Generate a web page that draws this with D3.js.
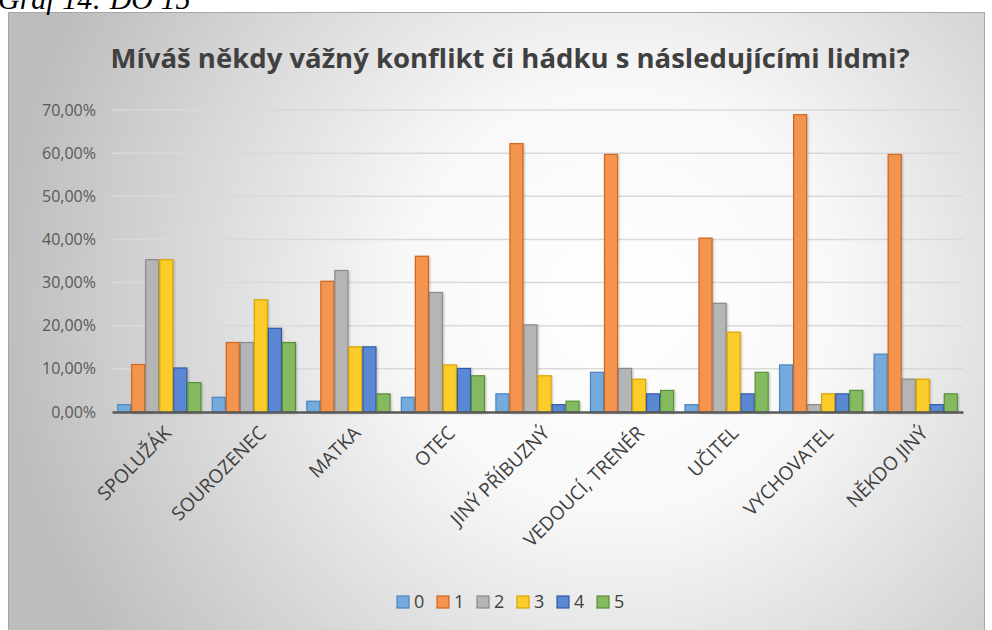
<!DOCTYPE html>
<html>
<head>
<meta charset="utf-8">
<script src="https://cdn.jsdelivr.net/npm/d3@7"></script>
<style>
  html, body { margin: 0; padding: 0; background: #fff; }
  svg { display: block; }
</style>
</head>
<body>
<svg id="chart" width="992" height="630"></svg>
<script>
// categories (people) and answer series 0..5, values in percent
const categories = ['SPOLUŽÁK', 'SOUROZENEC', 'MATKA', 'OTEC', 'JINÝ PŘÍBUZNÝ',
  'VEDOUCÍ, TRENÉR', 'UČITEL', 'VYCHOVATEL', 'NĚKDO JINÝ'];
const seriesNames = ['0', '1', '2', '3', '4', '5'];
const s0 = [1.7, 3.4, 2.5, 3.4, 4.2, 9.2, 1.7, 10.9, 13.4];
const s1 = [11.0, 16.1, 30.3, 36.1, 62.2, 59.7, 40.3, 68.9, 59.7];
const s2 = [35.3, 16.1, 32.8, 27.7, 20.2, 10.1, 25.2, 1.7, 7.6];
const s3 = [35.3, 26.0, 15.1, 10.9, 8.4, 7.6, 18.5, 4.2, 7.6];
const s4 = [10.2, 19.4, 15.1, 10.1, 1.7, 4.2, 4.2, 4.2, 1.7];
const s5 = [6.8, 16.1, 4.2, 8.4, 2.5, 5.0, 9.2, 5.0, 4.2];
const yTicks = [0, 10, 20, 30, 40, 50, 60, 70];

const series = [s0, s1, s2, s3, s4, s5];
const fills = ['#74aadd', '#f4954f', '#b5b5b5', '#fccd2a', '#5b87d3', '#85ba60'];
const strokes = ['#4a86c2', '#d0651e', '#8a8a8a', '#d9a300', '#2f5aa8', '#57903a'];

const svg = d3.select('svg#chart');

// background gradient
const defs = svg.append('defs');
const grad = defs.append('radialGradient')
  .attr('id', 'bg')
  .attr('gradientUnits', 'userSpaceOnUse')
  .attr('cx', 620).attr('cy', 300).attr('r', 620);
grad.append('stop').attr('offset', '0%').attr('stop-color', '#ffffff');
grad.append('stop').attr('offset', '35%').attr('stop-color', '#f8f8f8');
grad.append('stop').attr('offset', '100%').attr('stop-color', '#bdbdbd');

const shadow = defs.append('filter').attr('id', 'sh')
  .attr('x', '-20%').attr('y', '-5%').attr('width', '160%').attr('height', '115%');
shadow.append('feDropShadow')
  .attr('dx', 1).attr('dy', 1).attr('stdDeviation', 1)
  .attr('flood-color', '#000').attr('flood-opacity', 0.25);

svg.append('rect')
  .attr('x', 8.5).attr('y', 12.5)
  .attr('width', 976).attr('height', 625)
  .attr('fill', 'url(#bg)')
  .attr('stroke', '#a6a6a6');

// caption, partly above the top of the page as in the scan
svg.append('text')
  .attr('x', -2).attr('y', 9)
  .attr('font-family', 'Liberation Serif')
  .attr('font-style', 'italic')
  .attr('font-size', 30)
  .attr('fill', '#000')
  .text('Graf 14: DO 15');

svg.append('text')
  .attr('x', 510).attr('y', 68)
  .attr('text-anchor', 'middle')
  .attr('font-family', 'Open Sans')
  .attr('font-weight', 'bold')
  .attr('font-size', 27.5)
  .attr('fill', '#404040')
  .text('Míváš někdy vážný konflikt či hádku s následujícími lidmi?');

const x0 = d3.scaleBand().domain(categories).range([112, 963])
  .paddingInner(0.11).paddingOuter(0.055);
const x1 = d3.scaleBand().domain(seriesNames).range([0, x0.bandwidth()]);
const y = d3.scaleLinear().domain([0, 70]).range([412, 110]);

// gridlines
svg.append('g')
  .selectAll('line')
  .data(yTicks.filter(d => d > 0))
  .join('line')
  .attr('x1', 112).attr('x2', 963)
  .attr('y1', d => y(d)).attr('y2', d => y(d))
  .attr('stroke', '#d9d9d9')
  .attr('stroke-width', 1.5);

// y axis labels
const yAxis = d3.axisLeft(y).tickValues(yTicks)
  .tickSize(0).tickPadding(16)
  .tickFormat(d => d3.format('.2f')(d).replace('.', ',') + '%');
svg.append('g')
  .attr('transform', 'translate(112,0)')
  .call(yAxis)
  .call(g => g.select('.domain').remove())
  .selectAll('text')
  .attr('font-family', 'Open Sans')
  .attr('font-size', 16)
  .attr('fill', '#595959');

// bars
const groups = svg.append('g')
  .selectAll('g')
  .data(categories)
  .join('g')
  .attr('transform', d => `translate(${x0(d)},0)`);

groups.selectAll('rect')
  .data((c, i) => series.map((s, k) => ({ key: seriesNames[k], k, v: s[i] })))
  .join('rect')
  .attr('x', d => x1(d.key) + 0.5)
  .attr('y', d => y(d.v))
  .attr('width', x1.bandwidth() - 1)
  .attr('height', d => y(0) - y(d.v))
  .attr('fill', d => fills[d.k])
  .attr('stroke', d => strokes[d.k])
  .attr('stroke-width', 1.2)
  .attr('filter', 'url(#sh)');

// x axis
const xAxis = d3.axisBottom(x0).tickSize(0).tickPadding(6);
svg.append('g')
  .attr('transform', `translate(0,${y(0)})`)
  .call(xAxis)
  .call(g => g.select('.domain')
    .attr('stroke', '#595959').attr('stroke-width', 2.5))
  .selectAll('text')
  .attr('font-family', 'Open Sans')
  .attr('font-size', 19)
  .attr('fill', '#404040')
  .attr('text-anchor', 'end')
  .attr('dy', '0.3em')
  .attr('transform', 'translate(5,14) rotate(-45)');

// legend
const legend = svg.append('g').attr('transform', 'translate(397,602)');
const item = legend.selectAll('g')
  .data(seriesNames)
  .join('g')
  .attr('transform', (d, i) => `translate(${i * 40},0)`);
item.append('rect')
  .attr('x', 0).attr('y', -6)
  .attr('width', 12).attr('height', 12)
  .attr('fill', (d, i) => fills[i])
  .attr('stroke', (d, i) => strokes[i])
  .attr('stroke-width', 1.2);
item.append('text')
  .attr('x', 17).attr('y', 0)
  .attr('dy', '0.36em')
  .attr('font-family', 'Open Sans')
  .attr('font-size', 18)
  .attr('fill', '#404040')
  .text(d => d);
</script>
</body>
</html>
